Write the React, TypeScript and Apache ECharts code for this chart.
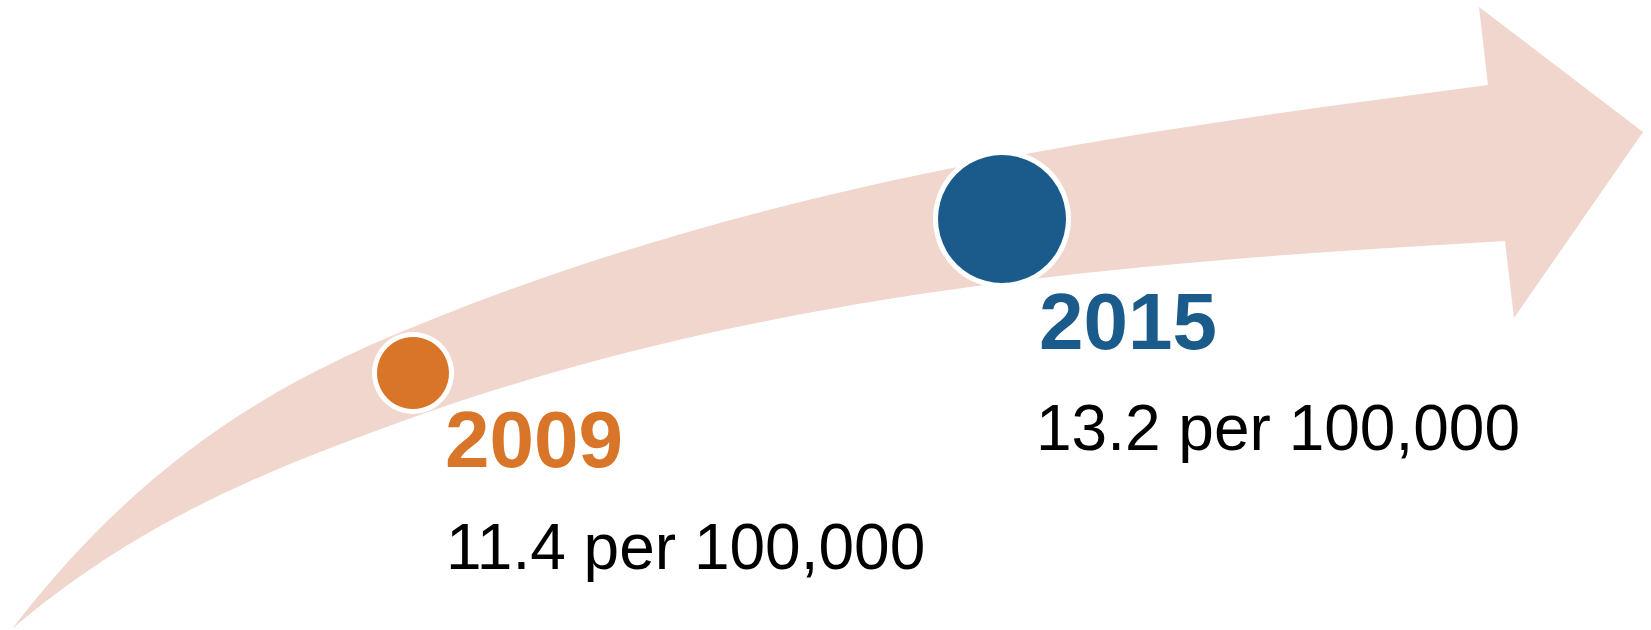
import React, { useEffect, useRef } from 'react';
import * as echarts from 'echarts';

// ---- data ----
const years: string[] = ['2009', '2015'];
const rates: number[] = [11.4, 13.2];
const unitLabel = 'per 100,000';

// ---- styles / layout ----
const W = 1651;
const H = 630;
const ARROW_FILL = '#F0D6CD';
const yearColors = ['#D97528', '#1A5B8B'];
const FONT = '"Liberation Sans", Arial, sans-serif';

// arrow band outline: cubic bezier segments [c1, c2, end] (pixels)
const tailTip = [12, 629];
const upperCurve: number[][][] = [
  [[152, 447], [293, 374], [433, 319]],
  [[785, 178], [1136, 131], [1488, 85]],
];
const arrowHead: number[][] = [[1479, 7], [1643, 132], [1514, 318], [1505, 241]];
const lowerCurve: number[][][] = [
  [[1137, 262], [768, 289], [400, 422]],
  [[271, 469], [141, 519], [12, 629]],
];

const markers = [
  { cx: 413, cy: 373, r: 36, ring: 41 },
  { cx: 1002, cy: 219, r: 64, ring: 69 },
];
const yearPos = [
  { x: 445, y: 439 },
  { x: 1039, y: 321 },
];
const ratePos = [
  { x: 446, y: 547 },
  { x: 1036, y: 428 },
];

function arrowPath(): string {
  let d = `M ${tailTip[0]} ${tailTip[1]}`;
  upperCurve.forEach(([c1, c2, e]) => {
    d += ` C ${c1[0]} ${c1[1]} ${c2[0]} ${c2[1]} ${e[0]} ${e[1]}`;
  });
  arrowHead.forEach((p) => {
    d += ` L ${p[0]} ${p[1]}`;
  });
  lowerCurve.forEach(([c1, c2, e]) => {
    d += ` C ${c1[0]} ${c1[1]} ${c2[0]} ${c2[1]} ${e[0]} ${e[1]}`;
  });
  d += ' Z';
  return d;
}

let registered = false;

export default function App() {
  const ref = useRef<HTMLDivElement>(null);

  useEffect(() => {
    document.body.style.margin = '0';
    if (!registered) {
      echarts.graphic.registerShape('arrowBand', echarts.graphic.extendPath(arrowPath(), {}) as any);
      registered = true;
    }
    const chart = echarts.init(ref.current!, null, { renderer: 'svg' });

    const elements: any[] = [
      { type: 'arrowBand', x: 0, y: 0, style: { fill: ARROW_FILL } },
    ];
    years.forEach((yr, i) => {
      const m = markers[i];
      elements.push({ type: 'circle', shape: { cx: m.cx, cy: m.cy, r: m.ring }, style: { fill: '#ffffff' } });
      elements.push({ type: 'circle', shape: { cx: m.cx, cy: m.cy, r: m.r }, style: { fill: yearColors[i] } });
      elements.push({
        type: 'text',
        style: {
          text: yr,
          x: yearPos[i].x,
          y: yearPos[i].y,
          fill: yearColors[i],
          fontSize: 80,
          fontWeight: 'bold',
          fontFamily: FONT,
          align: 'left',
          verticalAlign: 'middle',
        },
      });
      elements.push({
        type: 'text',
        style: {
          text: `${rates[i].toFixed(1)} ${unitLabel}`,
          x: ratePos[i].x,
          y: ratePos[i].y,
          fill: '#000000',
          fontSize: 64,
          fontFamily: FONT,
          align: 'left',
          verticalAlign: 'middle',
        },
      });
    });

    chart.setOption({
      animation: false,
      backgroundColor: '#ffffff',
      graphic: { elements },
    });

    return () => {
      chart.dispose();
    };
  }, []);

  return <div ref={ref} style={{ width: W, height: H }} />;
}
